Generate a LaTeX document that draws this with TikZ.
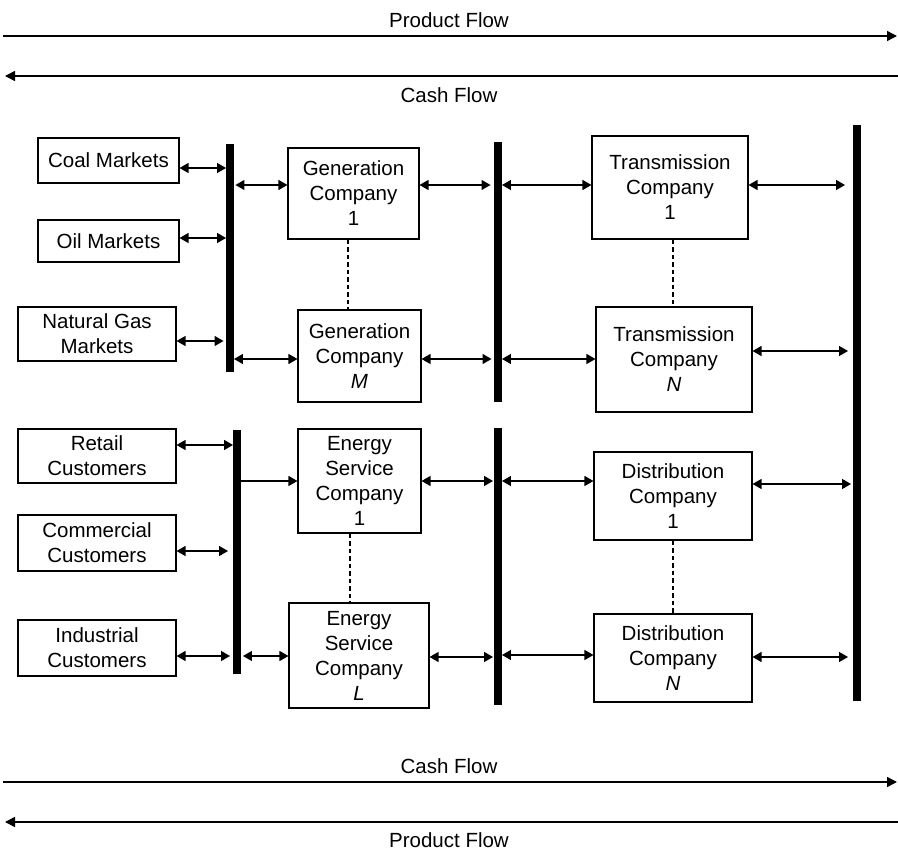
\documentclass[tikz,border=0pt]{standalone}
\usepackage{fontspec}
\setmainfont{Liberation Sans}
\usetikzlibrary{arrows.meta}
\begin{document}
\begin{tikzpicture}[x=1pt,y=-1pt,
  box/.style={draw, line width=1.1pt, inner sep=0pt, align=center, font=\fontsize{20.5}{25}\selectfont},
  bus/.style={fill=black, inner sep=0pt, minimum width=7.5pt},
  link/.style={{Triangle[length=9pt,width=10pt]}-{Triangle[length=9pt,width=10pt]}, line width=1.2pt},
  onelink/.style={-{Triangle[length=9pt,width=10pt]}, line width=1.2pt},
  flow/.style={line width=1.5pt},
  dots/.style={line width=1.8pt, dash pattern=on 4.5pt off 3pt},
  lbl/.style={font=\fontsize{20.5}{25}\selectfont, inner sep=0pt}]
\useasboundingbox (0,0) rectangle (898,850);

% flow arrows
\coordinate (pfa) at (3,36);   \coordinate (pfb) at (897,36);
\coordinate (cfa) at (5,76);   \coordinate (cfb) at (898,76);
\coordinate (cfc) at (3,782);  \coordinate (cfd) at (897,782);
\coordinate (pfc) at (5,822);  \coordinate (pfd) at (898,822);
\draw[flow,-{Triangle[length=10pt,width=10pt]}] (pfa) -- (pfb);
\draw[flow,{Triangle[length=10pt,width=10pt]}-] (cfa) -- (cfb);
\draw[flow,-{Triangle[length=10pt,width=10pt]}] (cfc) -- (cfd);
\draw[flow,{Triangle[length=10pt,width=10pt]}-] (pfc) -- (pfd);
\node[lbl] (t1) at (449,20) {Product Flow};
\node[lbl] (t2) at (449,95) {Cash Flow};
\node[lbl] (t3) at (449,766) {Cash Flow};
\node[lbl] (t4) at (449,840) {Product Flow};

% boxes
\node[box, minimum width=141pt, minimum height=45pt] (coal) at (108.5,160.5) {Coal Markets};
\node[box, minimum width=141pt, minimum height=42pt] (oil) at (108.5,241) {Oil Markets};
\node[box, minimum width=158pt, minimum height=54pt] (gas) at (97,334) {Natural Gas\\Markets};
\node[box, minimum width=131pt, minimum height=91pt] (gen1) at (353.5,193.5) {Generation\\Company\\1};
\node[box, minimum width=123pt, minimum height=92pt] (genM) at (359.5,356) {Generation\\Company\\\textit{M}};
\node[box, minimum width=156pt, minimum height=103pt] (tr1) at (670,187.5) {Transmission\\Company\\1};
\node[box, minimum width=156pt, minimum height=105pt] (trN) at (674,359.5) {Transmission\\Company\\\textit{N}};
\node[box, minimum width=158pt, minimum height=54pt] (ret) at (97,456) {Retail\\Customers};
\node[box, minimum width=158pt, minimum height=56pt] (com) at (97,543) {Commercial\\Customers};
\node[box, minimum width=158pt, minimum height=56pt] (ind) at (97,648) {Industrial\\Customers};
\node[box, minimum width=123pt, minimum height=104pt] (es1) at (359.5,481) {Energy\\Service\\Company\\1};
\node[box, minimum width=140pt, minimum height=105pt] (esL) at (359,655.5) {Energy\\Service\\Company\\\textit{L}};
\node[box, minimum width=158pt, minimum height=88pt] (di1) at (673,496) {Distribution\\Company\\1};
\node[box, minimum width=158pt, minimum height=88pt] (diN) at (673,658) {Distribution\\Company\\\textit{N}};

% buses (nodes, placed before links for anchors)
\node[bus, minimum height=228pt] (b1) at (230,258) {};
\node[bus, minimum height=260pt] (b2) at (498,272) {};
\node[bus, minimum height=576pt] (b3) at (857,413) {};
\node[bus, minimum height=244pt] (b4) at (237,552) {};
\node[bus, minimum height=277pt] (b5) at (498,566.5) {};

% links
\draw[link] (coal.east |- 0,168) -- (b1.west |- 0,168);
\draw[link] (oil.east |- 0,238) -- (b1.west |- 0,238);
\draw[link, shorten >=2.5pt] (gas.east |- 0,341) -- (b1.west |- 0,341);
\draw[link, shorten <=1.5pt] (b1.east |- 0,185) -- (gen1.west |- 0,185);
\draw[link] (b1.east |- 0,359) -- (genM.west |- 0,359);
\draw[link, shorten >=3.5pt] (gen1.east |- 0,185) -- (b2.west |- 0,185);
\draw[link, shorten >=2.5pt] (genM.east |- 0,359) -- (b2.west |- 0,359);
\draw[link] (b2.east |- 0,185) -- (tr1.west |- 0,185);
\draw[link] (b2.east |- 0,359) -- (trN.west |- 0,359);
\draw[link, shorten >=8pt] (tr1.east |- 0,185) -- (b3.west |- 0,185);
\draw[link, shorten >=5pt] (trN.east |- 0,351) -- (b3.west |- 0,351);
\draw[link] (ret.east |- 0,445) -- (b4.west |- 0,445);
\draw[link, shorten >=5pt] (com.east |- 0,551) -- (b4.west |- 0,551);
\draw[link, shorten >=3pt] (ind.east |- 0,656) -- (b4.west |- 0,656);
\draw[onelink] (b4.east |- 0,481) -- (es1.west |- 0,481);
\draw[link, shorten <=2pt] (b4.east |- 0,656) -- (esL.west |- 0,656);
\draw[link, shorten >=1pt] (es1.east |- 0,481) -- (b5.west |- 0,481);
\draw[link, shorten >=1pt] (esL.east |- 0,657) -- (b5.west |- 0,657);
\draw[link] (b5.east |- 0,481) -- (di1.west |- 0,481);
\draw[link] (b5.east |- 0,655) -- (diN.west |- 0,655);
\draw[link, shorten >=2pt] (di1.east |- 0,484) -- (b3.west |- 0,484);
\draw[link, shorten >=5pt] (diN.east |- 0,657) -- (b3.west |- 0,657);

% redraw buses on top
\fill (b1.south west) rectangle (b1.north east);
\fill (b2.south west) rectangle (b2.north east);
\fill (b3.south west) rectangle (b3.north east);
\fill (b4.south west) rectangle (b4.north east);
\fill (b5.south west) rectangle (b5.north east);

% dotted links
\draw[dots] (gen1.south -| 348,0) -- (genM.north -| 348,0);
\draw[dots] (tr1.south -| 673,0) -- (trN.north -| 673,0);
\draw[dots] (es1.south -| 350,0) -- (esL.north -| 350,0);
\draw[dots] (di1.south -| 673,0) -- (diN.north -| 673,0);
\end{tikzpicture}
\end{document}
